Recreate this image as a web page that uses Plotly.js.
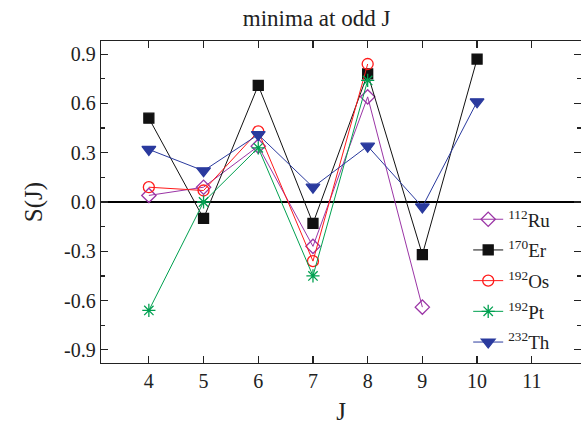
<!DOCTYPE html>
<html>
<head>
<meta charset="utf-8">
<script src="https://cdn.plot.ly/plotly-3.0.1.min.js"></script>
<style>html,body{margin:0;padding:0;overflow:hidden;background:#fff;}</style>
</head>
<body>
<div id="chart" style="width:581px;height:431px;"></div>
<script>
const J = [4, 5, 6, 7, 8, 9, 10];
const ru112 = [0.04, 0.09, 0.34, -0.27, 0.64, -0.64];
const er170 = [0.51, -0.10, 0.71, -0.13, 0.78, -0.32, 0.87];
const os192 = [0.09, 0.07, 0.43, -0.36, 0.84];
const pt192 = [-0.66, 0.00, 0.33, -0.45, 0.74];
const th232 = [0.32, 0.19, 0.41, 0.09, 0.34, -0.03, 0.61];

const yTickVals = [-0.9, -0.6, -0.3, 0, 0.3, 0.6, 0.9];
const yTickText = ['-0.9', '-0.6', '-0.3', '0.0', '0.3', '0.6', '0.9'];
const xTickVals = [4, 5, 6, 7, 8, 9, 10, 11];

const FONT = 'Liberation Serif, Times New Roman, serif';

function tr(name, ys, color, symbol, size, group) {
  return {
    x: J.slice(0, ys.length), y: ys, name: name, legendgroup: group,
    type: 'scatter', mode: 'lines+markers',
    line: {color: color, width: 1},
    marker: {color: color, symbol: symbol, size: size, line: {color: color, width: 1.3}}
  };
}

const data = [
  tr('<sup>112</sup>Ru', ru112, '#9b35a6', 'diamond-open', 11, 'a'),
  tr('<sup>170</sup>Er', er170, '#111111', 'square', 10, 'b'),
  tr('<sup>192</sup>Os', os192, '#ff1a1a', 'circle-open', 11, 'c'),
  tr('<sup>192</sup>Pt', pt192, '#00a050', 'asterisk-open', 11, 'd'),
  tr('<sup>232</sup>Th', th232, '#2a3a9e', 'triangle-down', 12, 'e')
];

const layout = {
  width: 581, height: 431,
  margin: {l: 101, r: 0, t: 41, b: 68},
  paper_bgcolor: '#fff', plot_bgcolor: '#fff',
  font: {family: FONT, size: 19, color: '#222'},
  title: {text: 'minima at odd J', font: {family: FONT, size: 23, color: '#222'},
          x: 0.545, xref: 'container', xanchor: 'center', y: 0.958, yanchor: 'middle'},
  showlegend: true,
  legend: {x: 0.765, y: 0.505, xanchor: 'left', yanchor: 'top', bgcolor: 'rgba(0,0,0,0)',
           font: {family: FONT, size: 19, color: '#222'}, tracegroupgap: 3, traceorder: 'grouped'},
  xaxis: {
    range: [3.125, 11.9], tickvals: xTickVals, ticks: 'inside', ticklen: 7, tickwidth: 1.2,
    tickcolor: '#222', showline: true, linecolor: '#222', linewidth: 1.3, mirror: 'ticks',
    showgrid: false, zeroline: false,
    tickfont: {family: FONT, size: 20, color: '#222'},
    title: {text: 'J', font: {family: FONT, size: 25, color: '#222'}, standoff: 11}
  },
  yaxis: {
    range: [-0.98, 0.98], tickvals: yTickVals, ticktext: yTickText, ticks: 'inside', ticklen: 7,
    tickwidth: 1.2, tickcolor: '#222', showline: true, linecolor: '#222', linewidth: 1.3,
    mirror: 'ticks', showgrid: false,
    zeroline: true, zerolinecolor: '#000', zerolinewidth: 2,
    minor: {dtick: 0.15, tick0: 0, ticks: 'inside', ticklen: 4, tickcolor: '#222', showgrid: false},
    tickfont: {family: FONT, size: 20, color: '#222'},
    title: {text: 'S(J)', font: {family: FONT, size: 25, color: '#222'}, standoff: 14}
  }
};

Plotly.newPlot('chart', data, layout, {displayModeBar: false, staticPlot: true});
</script>
</body>
</html>
